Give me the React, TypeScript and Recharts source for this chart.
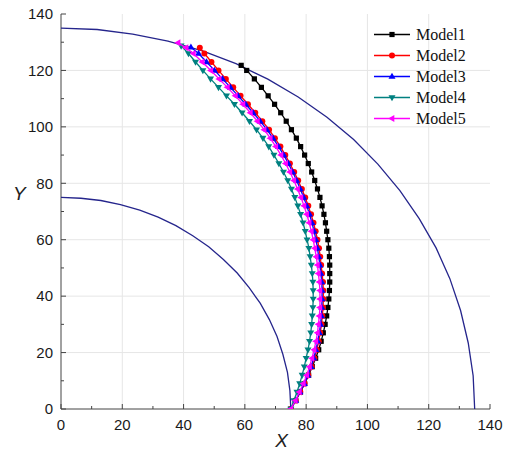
import React from 'react';
import { ScatterChart, Scatter, XAxis, YAxis, CartesianGrid, Legend, Label } from 'recharts';

type Pt = [number, number];

const xTicks = [0, 10, 20, 30, 40, 50, 60, 70, 80, 90, 100, 110, 120, 130, 140];
const yTicks = [0, 10, 20, 30, 40, 50, 60, 70, 80, 90, 100, 110, 120, 130, 140];
const gridValues = [20, 40, 60, 80, 100, 120];

// boundary arcs (inner r = 75, outer r = 135)
const innerArc: Pt[] = [
  [0, 75], [6.5, 74.7], [13.0, 73.9], [19.4, 72.4], [25.7, 70.5], [31.7, 68.0], [37.5, 65.0],
  [43.0, 61.4], [48.2, 57.5], [53.0, 53.0], [57.5, 48.2], [61.4, 43.0], [65.0, 37.5], [68.0, 31.7],
  [70.5, 25.7], [72.4, 19.4], [73.9, 13.0], [74.7, 6.5], [75, 0],
];
const outerArc: Pt[] = [
  [0, 135], [11.8, 134.5], [23.4, 132.9], [34.9, 130.4], [46.2, 126.9], [57.1, 122.4], [67.5, 116.9],
  [77.4, 110.6], [86.8, 103.4], [95.5, 95.5], [103.4, 86.8], [110.6, 77.4], [116.9, 67.5], [122.4, 57.1],
  [126.9, 46.2], [130.4, 34.9], [132.9, 23.4], [134.5, 11.8], [135, 0],
];

const model1: Pt[] = [
  [75.0, 0], [76.6, 3], [78.1, 6], [79.5, 9], [80.8, 12], [82.0, 15], [83.1, 18], [84.1, 21], [84.9, 24],
  [85.6, 27], [86.2, 30], [86.7, 33], [87.1, 36], [87.4, 39], [87.6, 42], [87.7, 45], [87.7, 48], [87.7, 51],
  [87.6, 54], [87.4, 57], [87.1, 60], [86.7, 63], [86.3, 66], [85.8, 69], [85.2, 72], [84.5, 75], [83.7, 78],
  [82.8, 81], [81.8, 84], [80.7, 87], [79.5, 90], [78.2, 93], [76.8, 96], [75.2, 99], [73.5, 102], [71.7, 105],
  [69.7, 108], [67.6, 111], [65.4, 114], [63.1, 117], [60.6, 120], [58.8, 121.8],
];
const model2: Pt[] = [
  [75.0, 0], [76.6, 3], [78.1, 6], [79.5, 9], [80.7, 12], [81.8, 15], [82.7, 18], [83.5, 21], [84.1, 24],
  [84.6, 27], [85.0, 30], [85.3, 33], [85.5, 36], [85.6, 39], [85.6, 42], [85.5, 45], [85.2, 48], [84.9, 51],
  [84.6, 54], [84.2, 57], [83.7, 60], [83.1, 63], [82.4, 66], [81.6, 69], [80.7, 72], [79.7, 75], [78.6, 78],
  [77.4, 81], [76.1, 84], [74.7, 87], [73.2, 90], [71.6, 93], [69.8, 96], [67.9, 99], [65.7, 102], [63.4, 105],
  [61.0, 108], [58.6, 111], [56.2, 114], [53.8, 117], [51.4, 120], [49.1, 123], [46.8, 126], [45.3, 128],
];
const model3: Pt[] = [
  [75.0, 0], [76.6, 3], [78.0, 6], [79.4, 9], [80.6, 12], [81.6, 15], [82.5, 18], [83.2, 21], [83.8, 24],
  [84.3, 27], [84.7, 30], [85.0, 33], [85.1, 36], [85.2, 39], [85.2, 42], [85.1, 45], [84.8, 48], [84.5, 51],
  [84.1, 54], [83.7, 57], [83.2, 60], [82.6, 63], [81.9, 66], [81.1, 69], [80.2, 72], [79.2, 75], [78.1, 78],
  [76.9, 81], [75.6, 84], [74.2, 87], [72.7, 90], [71.0, 93], [69.2, 96], [67.2, 99], [65.0, 102], [62.7, 105],
  [60.3, 108], [57.8, 111], [55.3, 114], [52.7, 117], [50.1, 120], [47.5, 123], [44.9, 126], [42.4, 128.2],
];
const model4: Pt[] = [
  [75.0, 0], [76.0, 3], [77.0, 6], [77.9, 9], [78.7, 12], [79.4, 15], [80.0, 18], [80.6, 21], [81.1, 24],
  [81.5, 27], [81.8, 30], [82.0, 33], [82.2, 36], [82.3, 39], [82.3, 42], [82.2, 45], [82.0, 48], [81.7, 51],
  [81.3, 54], [80.9, 57], [80.3, 60], [79.7, 63], [79.0, 66], [78.2, 69], [77.3, 72], [76.3, 75], [75.2, 78],
  [74.0, 81], [72.6, 84], [71.1, 87], [69.5, 90], [67.8, 93], [65.9, 96], [63.8, 99], [61.5, 102], [59.1, 105],
  [56.6, 108], [54.0, 111], [51.4, 114], [48.8, 117], [46.3, 120], [43.9, 123], [41.6, 126], [39.2, 128.7],
];
const model5: Pt[] = [
  [75.0, 0], [76.5, 3], [77.8, 6], [79.1, 9], [80.2, 12], [81.1, 15], [81.9, 18], [82.6, 21], [83.2, 24],
  [83.7, 27], [84.0, 30], [84.3, 33], [84.5, 36], [84.5, 39], [84.5, 42], [84.3, 45], [84.0, 48], [83.7, 51],
  [83.3, 54], [82.8, 57], [82.3, 60], [81.7, 63], [81.0, 66], [80.2, 69], [79.3, 72], [78.3, 75], [77.2, 78],
  [76.0, 81], [74.7, 84], [73.3, 87], [71.8, 90], [70.1, 93], [68.3, 96], [66.3, 99], [64.1, 102], [61.8, 105],
  [59.4, 108], [56.9, 111], [54.3, 114], [51.6, 117], [48.9, 120], [46.1, 123], [43.2, 126], [40.8, 128], [38.2, 129.8],
];

const toPts = (arr: Pt[]) => arr.map(([x, y]) => ({ x, y }));

type Marker = 'square' | 'circle' | 'up' | 'down' | 'left';

const series: { name: string; color: string; marker: Marker; points: Pt[] }[] = [
  { name: 'Model1', color: '#000000', marker: 'square', points: model1 },
  { name: 'Model2', color: '#ff0000', marker: 'circle', points: model2 },
  { name: 'Model3', color: '#0000ff', marker: 'up', points: model3 },
  { name: 'Model4', color: '#008080', marker: 'down', points: model4 },
  { name: 'Model5', color: '#ff00ff', marker: 'left', points: model5 },
];

const ARC_COLOR = '#25258c';
const AXIS_COLOR = '#444';
const TICK_FONT = { fontFamily: '"Liberation Sans", Arial, sans-serif', fontSize: 15, fill: '#1a1a1a' };

const drawMarker = (kind: Marker, cx: number, cy: number, color: string) => {
  switch (kind) {
    case 'square':
      return <rect x={cx - 2.6} y={cy - 2.6} width={5.2} height={5.2} fill={color} />;
    case 'circle':
      return <circle cx={cx} cy={cy} r={3} fill={color} />;
    case 'up':
      return <polygon points={`${cx},${cy - 3.8} ${cx - 3.5},${cy + 2.3} ${cx + 3.5},${cy + 2.3}`} fill={color} />;
    case 'down':
      return <polygon points={`${cx},${cy + 3.8} ${cx - 3.5},${cy - 2.3} ${cx + 3.5},${cy - 2.3}`} fill={color} />;
    default:
      return <polygon points={`${cx - 3.8},${cy} ${cx + 2.3},${cy - 3.5} ${cx + 2.3},${cy + 3.5}`} fill={color} />;
  }
};

const isMajor = (v: number) => v % 20 === 0;

const BottomTick = (p: any) => {
  const v = p.payload.value;
  const ay = p.y - 10;
  return (
    <g>
      <line x1={p.x} x2={p.x} y1={ay} y2={ay - (isMajor(v) ? 5 : 3)} stroke={AXIS_COLOR} />
      {isMajor(v) && (
        <text x={p.x} y={p.y} dy="0.71em" textAnchor="middle" {...TICK_FONT}>{v}</text>
      )}
    </g>
  );
};

const LeftTick = (p: any) => {
  const v = p.payload.value;
  const ax = p.x + 8;
  return (
    <g>
      <line x1={ax} x2={ax + (isMajor(v) ? 5 : 3)} y1={p.y} y2={p.y} stroke={AXIS_COLOR} />
      {isMajor(v) && (
        <text x={p.x} y={p.y} dy="0.355em" textAnchor="end" {...TICK_FONT}>{v}</text>
      )}
    </g>
  );
};

const TopTick = (p: any) => {
  const v = p.payload.value;
  return <line x1={p.x} x2={p.x} y1={p.y} y2={p.y + (isMajor(v) ? 5 : 3)} stroke={AXIS_COLOR} />;
};

const RightTick = (p: any) => {
  const v = p.payload.value;
  return <line x1={p.x} x2={p.x - (isMajor(v) ? 5 : 3)} y1={p.y} y2={p.y} stroke={AXIS_COLOR} />;
};

const renderLegend = (props: any) => (
  <div style={{ fontFamily: '"Liberation Serif", "Times New Roman", serif', fontSize: 16, color: '#111' }}>
    {(props.payload || []).map((entry: any) => {
      const s = series.find((it) => it.name === entry.value);
      if (!s) return null;
      return (
        <div key={s.name} style={{ display: 'flex', alignItems: 'center', height: 21 }}>
          <svg width={40} height={21}>
            <line x1={2} x2={38} y1={10.5} y2={10.5} stroke={s.color} strokeWidth={1.5} />
            {drawMarker(s.marker, 20, 10.5, s.color)}
          </svg>
          <span style={{ marginLeft: 4, lineHeight: '21px' }}>{s.name}</span>
        </div>
      );
    })}
  </div>
);

const noDot = () => <g />;

export default function App() {
  return (
    <div style={{ position: 'absolute', left: 0, top: 0, background: '#fff' }}>
      <ScatterChart width={512} height={454} margin={{ top: 14, right: 22, bottom: 0, left: 0 }}>
        <CartesianGrid
          stroke="#e6e6e6"
          verticalValues={gridValues}
          horizontalValues={gridValues}
        />
        <XAxis
          type="number"
          dataKey="x"
          domain={[0, 140]}
          ticks={xTicks}
          interval={0}
          allowDataOverflow
          height={45}
          tickSize={0}
          tickMargin={10}
          tickLine={false}
          axisLine={{ stroke: AXIS_COLOR }}
          tick={BottomTick}
        >
          <Label
            value="X"
            position="insideBottom"
            offset={7}
            dx={6}
            style={{ fontFamily: '"Liberation Sans", Arial, sans-serif', fontStyle: 'italic', fontSize: 19, fill: '#222' }}
          />
        </XAxis>
        <YAxis
          type="number"
          dataKey="y"
          domain={[0, 140]}
          ticks={yTicks}
          interval={0}
          allowDataOverflow
          width={61}
          tickSize={0}
          tickMargin={8}
          tickLine={false}
          axisLine={{ stroke: AXIS_COLOR }}
          tick={LeftTick}
        >
          <Label
            value="Y"
            position="insideLeft"
            offset={13}
            dy={-18}
            style={{ fontFamily: '"Liberation Sans", Arial, sans-serif', fontStyle: 'italic', fontSize: 19, fill: '#222' }}
          />
        </YAxis>
        <XAxis
          xAxisId="top"
          orientation="top"
          type="number"
          domain={[0, 140]}
          ticks={xTicks}
          interval={0}
          height={0}
          tickSize={0}
          tickMargin={0}
          tickLine={false}
          axisLine={{ stroke: AXIS_COLOR }}
          tick={TopTick}
        />
        <YAxis
          yAxisId="right"
          orientation="right"
          type="number"
          domain={[0, 140]}
          ticks={yTicks}
          interval={0}
          width={0}
          tickSize={0}
          tickMargin={0}
          tickLine={false}
          axisLine={{ stroke: AXIS_COLOR }}
          tick={RightTick}
        />
        <Legend
          layout="vertical"
          align="center"
          verticalAlign="middle"
          content={renderLegend}
          wrapperStyle={{ left: 372, top: 23.5, width: 130 }}
        />
        <Scatter
          name="inner"
          data={toPts(innerArc)}
          fill={ARC_COLOR}
          line={{ stroke: ARC_COLOR, strokeWidth: 1.3 }}
          lineType="joint"
          shape={noDot}
          legendType="none"
          isAnimationActive={false}
        />
        <Scatter
          name="outer"
          data={toPts(outerArc)}
          fill={ARC_COLOR}
          line={{ stroke: ARC_COLOR, strokeWidth: 1.3 }}
          lineType="joint"
          shape={noDot}
          legendType="none"
          isAnimationActive={false}
        />
        {series.map((s) => (
          <Scatter
            key={s.name}
            name={s.name}
            data={toPts(s.points)}
            fill={s.color}
            line={{ stroke: s.color, strokeWidth: 1.3 }}
            lineType="joint"
            shape={(p: any) => drawMarker(s.marker, p.cx, p.cy, s.color)}
            isAnimationActive={false}
          />
        ))}
      </ScatterChart>
    </div>
  );
}
